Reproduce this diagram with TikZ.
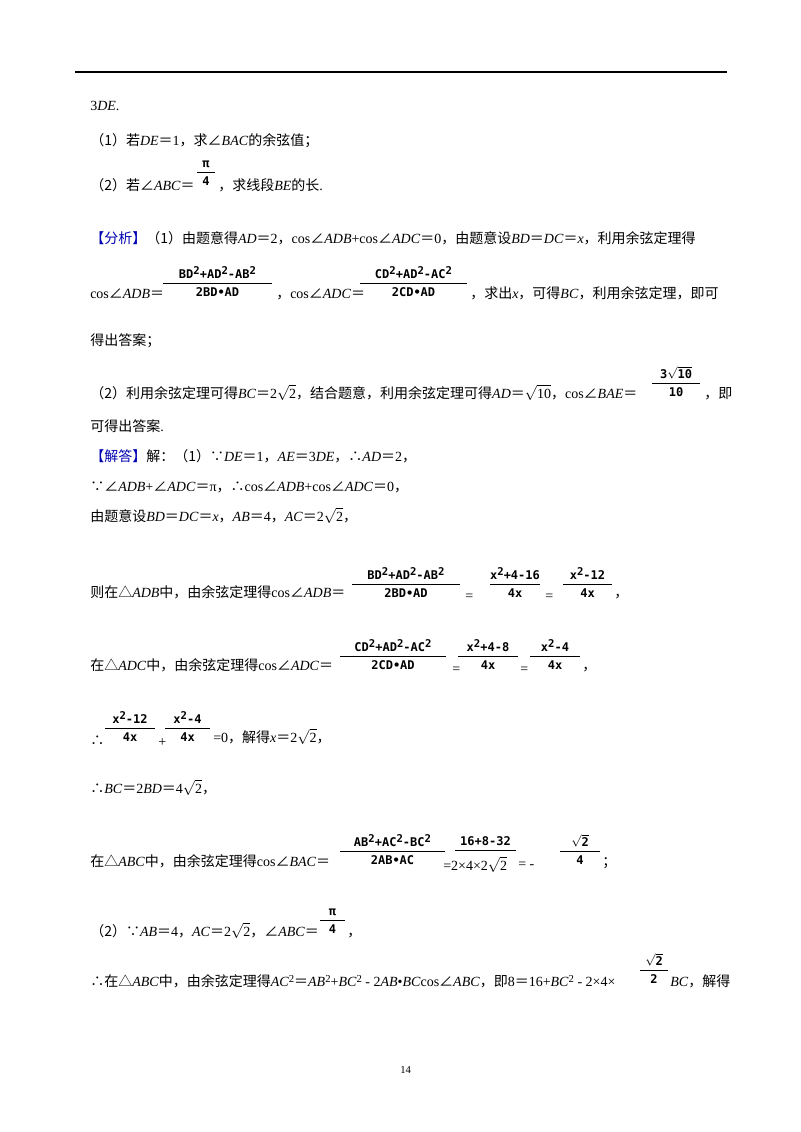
\documentclass[tikz,border=0pt]{standalone}
\usepackage{fontspec}
\setmainfont{Liberation Serif}
\newfontfamily\zhf{Noto Sans CJK SC}
\newfontfamily\ffa{DejaVu Sans Mono}
\newcommand\zh[1]{{\zhf #1}}
\newcommand\vi[1]{\textit{#1}}
\newcommand\sq[1]{\ensuremath{\sqrt{\mbox{#1}}}}
\newcommand\su{\raisebox{0.55ex}{\fontsize{8}{9}\selectfont 2}}
\tikzset{t/.style={anchor=base west,inner sep=0pt,font=\fontsize{10.5}{12}\selectfont},
 ff/.style={inner sep=0pt,font=\ffa\bfseries\fontsize{9}{10}\selectfont}}
\newcommand\fracat[5]{%
 \draw[line width=0.6pt] (#1,#3) -- (#2,#3);
 \node[ff,anchor=base] at ({(#1+#2)/2},#3-5) {#4};
 \node[ff,anchor=base] at ({(#1+#2)/2},#3+13) {#5};}
\newcommand\numat[4]{%
 \draw[line width=0.6pt] (#1,#3) -- (#2,#3);
 \node[ff,anchor=base] at ({(#1+#2)/2},#3-5) {#4};}
\begin{document}
\begin{tikzpicture}[x=0.75pt,y=-0.75pt]
\useasboundingbox[fill=white] (0,0) rectangle (800,1132);
\draw[line width=1pt] (75,72) -- (727,72);
\node[t] (l1) at (90,110) {3\vi{DE}.};
\node[t] (l2) at (90,145) {\zh{（1）若}\vi{DE}\zh{＝}1\zh{，求∠}\vi{BAC}\zh{的余弦值；}};
\node[t] (l3) at (90,190) {\zh{（2）若∠}\vi{ABC}\zh{＝}};
\fracat{197}{215}{172}{π}{4}
\node[t] (l3b) at (218,190) {\zh{，求线段}\vi{BE}\zh{的长}.};
\node[t] (l4) at (90,243) {\zh{\textcolor{blue!70!black}{【分析】}（1）由题意得}\vi{AD}\zh{＝}2\zh{，}cos\zh{∠}\vi{ADB}+cos\zh{∠}\vi{ADC}\zh{＝}0\zh{，由题意设}\vi{BD}\zh{＝}\vi{DC}\zh{＝}\vi{x}\zh{，利用余弦定理得}};
\node[t] (l5) at (90,298) {cos\zh{∠}\vi{ADB}\zh{＝}};
\fracat{163}{272}{283}{BD\su+AD\su-AB\su}{2BD\textbullet AD}
\node[t] (l5b) at (276,298) {\zh{，}cos\zh{∠}\vi{ADC}\zh{＝}};
\fracat{360}{467}{283}{CD\su+AD\su-AC\su}{2CD\textbullet AD}
\node[t] (l5c) at (470,298) {\zh{，求出}\vi{x}\zh{，可得}\vi{BC}\zh{，利用余弦定理，即可}};
\node[t] (l6) at (90,345) {\zh{得出答案；}};
\node[t] (l7) at (90,398) {\zh{（2）利用余弦定理可得}\vi{BC}\zh{＝}2\sq{2}\zh{，结合题意，利用余弦定理可得}\vi{AD}\zh{＝}\sq{10}\zh{，}cos\zh{∠}\vi{BAE}\zh{＝}};
\fracat{652}{700}{383}{3\sq{10}}{10}
\node[t] (l7b) at (704,398) {\zh{，即}};
\node[t] (l8) at (90,431) {\zh{可得出答案}.};
\node[t] (l9) at (90,461) {\zh{\textcolor{blue!70!black}{【解答】}解：（1）∵}\vi{DE}\zh{＝}1\zh{，}\vi{AE}\zh{＝}3\vi{DE}\zh{，∴}\vi{AD}\zh{＝}2\zh{，}};
\node[t] (l10) at (90,491) {\zh{∵∠}\vi{ADB}+\zh{∠}\vi{ADC}\zh{＝}π\zh{，∴}cos\zh{∠}\vi{ADB}+cos\zh{∠}\vi{ADC}\zh{＝}0\zh{，}};
\node[t] (l11) at (90,521) {\zh{由题意设}\vi{BD}\zh{＝}\vi{DC}\zh{＝}\vi{x}\zh{，}\vi{AB}\zh{＝}4\zh{，}\vi{AC}\zh{＝}2\sq{2}\zh{，}};
\node[t] (l12) at (90,597) {\zh{则在△}\vi{ADB}\zh{中，由余弦定理得}cos\zh{∠}\vi{ADB}\zh{＝}};
\fracat{352}{460}{584}{BD\su+AD\su-AB\su}{2BD\textbullet AD}
\node[t] at (465,600) {=};
\fracat{490}{540}{584}{x\su+4-16}{4x}
\node[t] at (545,600) {=};
\fracat{563}{612}{584}{x\su-12}{4x}
\node[t] at (614,597) {\zh{，}};
\node[t] (l13) at (90,670) {\zh{在△}\vi{ADC}\zh{中，由余弦定理得}cos\zh{∠}\vi{ADC}\zh{＝}};
\fracat{340}{446}{656}{CD\su+AD\su-AC\su}{2CD\textbullet AD}
\node[t] at (452,673) {=};
\fracat{458}{518}{656}{x\su+4-8}{4x}
\node[t] at (520,673) {=};
\fracat{530}{580}{656}{x\su-4}{4x}
\node[t] at (582,670) {\zh{，}};
\node[t] (l14) at (90,745) {\zh{∴}};
\fracat{105}{155}{728}{x\su-12}{4x}
\node[t] at (158,746) {+};
\fracat{165}{210}{728}{x\su-4}{4x}
\node[t] at (213,742) {=0\zh{，解得}\vi{x}\zh{＝}2\sq{2}\zh{，}};
\node[t] (l15) at (90,793) {\zh{∴}\vi{BC}\zh{＝}2\vi{BD}\zh{＝}4\sq{2}\zh{，}};
\node[t] (l16) at (90,866) {\zh{在△}\vi{ABC}\zh{中，由余弦定理得}cos\zh{∠}\vi{BAC}\zh{＝}};
\fracat{340}{445}{851}{AB\su+AC\su-BC\su}{2AB\textbullet AC}
\numat{455}{516}{850}{16+8-32}
\node[t] at (443,870) {=2\texttimes 4\texttimes 2\sq{2}};
\node[t] at (518,868) {= -};
\fracat{560}{600}{851}{\sq{2}}{4}
\node[t] at (602,866) {\zh{；}};
\node[t] (l17) at (90,936) {\zh{（2）∵}\vi{AB}\zh{＝}4\zh{，}\vi{AC}\zh{＝}2\sq{2}\zh{，∠}\vi{ABC}\zh{＝}};
\fracat{320}{345}{920}{π}{4}
\node[t] at (347,936) {\zh{，}};
\node[t] (l18) at (90,986) {\zh{∴在△}\vi{ABC}\zh{中，由余弦定理得}\vi{AC}\su\zh{＝}\vi{AB}\su+\vi{BC}\su{} - 2\vi{AB}\textbullet\vi{BC}cos\zh{∠}\vi{ABC}\zh{，即}8\zh{＝}16+\vi{BC}\su{} - 2\texttimes4\texttimes};
\fracat{640}{668}{970}{\sq{2}}{2}
\node[t] at (670,986) {\vi{BC}\zh{，解得}};
\node[t] (pg) at (400,1073) {\fontsize{8}{9}\selectfont 14};
\end{tikzpicture}
\end{document}
